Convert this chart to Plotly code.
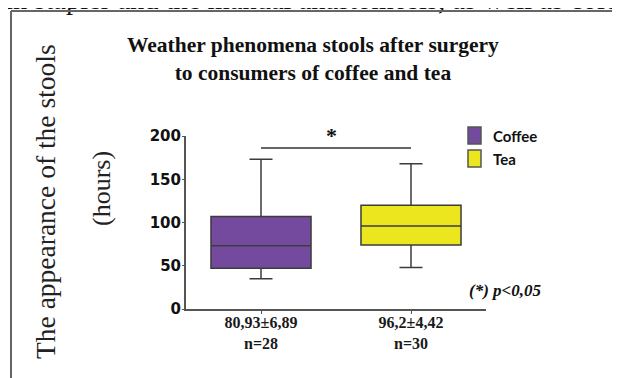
import plotly.graph_objects as go

W, H = 620, 378
OFF = 8  # the page body margin shifts the figure by this many pixels

# ---- data ----
groups = ["Coffee", "Tea"]
x_pos = [1, 2]
q1 = [47, 74]
median = [73, 96]
q3 = [107, 120]
lower = [35, 48]
upper = [173, 168]
means = ["80,93", "96,2"]
sems = ["6,89", "4,42"]
ns = [28, 30]
fills = ["#744a9e", "#ece61e"]
y_ticks = [0, 50, 100, 150, 200]
y_max = 200
bracket_value = 186
star_value = 201
page_text = "in stapler and the manual anastomosis, as well as colo"

def px_x(p):
    return (p - OFF) / W

def px_y(p):
    return 1 - (p - OFF) / H

y_dom = [px_y(309), px_y(136)]

fig = go.Figure()
for i, g in enumerate(groups):
    fig.add_trace(go.Box(
        x=[x_pos[i]], q1=[q1[i]], median=[median[i]], q3=[q3[i]],
        lowerfence=[lower[i]], upperfence=[upper[i]],
        name=g, width=0.667, whiskerwidth=0.23,
        fillcolor=fills[i], line=dict(color="#3c3c3c", width=1.5),
        showlegend=False, boxpoints=False,
    ))

# clipped line of page text above the frame (on a hidden full-page axis pair)
fig.add_trace(go.Scatter(
    x=[5], y=[1.5], mode="text", text=[page_text], textposition="middle right",
    textfont=dict(family="Liberation Serif", size=28.5, color="#111"),
    xaxis="x2", yaxis="y2", showlegend=False, hoverinfo="skip", cliponaxis=True,
))

ticktext = [f"{m}±{s}<br>n={n}" for m, s, n in zip(means, sems, ns)]

fig.update_layout(
    width=W, height=H,
    margin=dict(l=0, r=0, t=0, b=0, autoexpand=False),
    paper_bgcolor="white", plot_bgcolor="rgba(0,0,0,0)",
    boxmode="overlay",
    xaxis=dict(
        domain=[px_x(186), px_x(486)], range=[0.5, 2.5],
        tickvals=x_pos, ticktext=ticktext,
        showline=True, linecolor="#555", linewidth=2,
        ticks="outside", ticklen=3, tickcolor="#555",
        showgrid=False, zeroline=False, automargin=False,
        tickfont=dict(family="Liberation Serif", size=16, color="#1a1a1a", weight="bold"),
        ticklabelstandoff=-5,
    ),
    yaxis=dict(
        domain=y_dom, range=[0, y_max],
        tickvals=y_ticks,
        showline=True, linecolor="#555", linewidth=2,
        ticks="outside", ticklen=2, tickcolor="#555",
        showgrid=False, zeroline=False, automargin=False,
        tickfont=dict(family="DejaVu Sans", size=15, color="#111", weight="bold"),
        ticklabelstandoff=-2,
    ),
    xaxis2=dict(domain=[0, 1], range=[OFF, W + OFF], visible=False, anchor="y2", fixedrange=True),
    yaxis2=dict(domain=[0, 1], range=[H + OFF, OFF], visible=False, anchor="x2", fixedrange=True),
)

# significance bracket and star
fig.add_shape(type="line", xref="x", yref="y", x0=x_pos[0], x1=x_pos[1],
              y0=bracket_value, y1=bracket_value, line=dict(color="#333", width=1.5))
star_paper_y = y_dom[0] + (y_dom[1] - y_dom[0]) * star_value / y_max
fig.add_annotation(xref="x", yref="paper", x=sum(x_pos) / 2 - 0.03, y=star_paper_y, text="<b>*</b>",
                   showarrow=False, font=dict(family="Liberation Serif", size=22, color="#111"))

# frame of the scanned page
fig.add_shape(type="line", xref="paper", yref="paper", x0=px_x(11), x1=1,
              y0=px_y(11), y1=px_y(11), line=dict(color="#666", width=2))
fig.add_shape(type="line", xref="paper", yref="paper", x0=px_x(11), x1=px_x(11),
              y0=px_y(11), y1=0, line=dict(color="#666", width=2))

# title
fig.add_annotation(xref="paper", yref="paper", x=px_x(313), y=px_y(58.5), xanchor="center", yanchor="middle",
                   text="<b>Weather phenomena stools after surgery<br>to consumers of coffee and tea</b>",
                   showarrow=False, font=dict(family="Liberation Serif", size=21.5, color="#111"))

# y-axis title (two lines placed separately)
fig.add_annotation(xref="paper", yref="paper", x=px_x(45), y=px_y(202), xanchor="center", yanchor="middle",
                   text="The appearance of the stools", textangle=-90, showarrow=False,
                   font=dict(family="Liberation Serif", size=27.5, color="#222"))
fig.add_annotation(xref="paper", yref="paper", x=px_x(101), y=px_y(189), xanchor="center", yanchor="middle",
                   text="(hours)", textangle=-90, showarrow=False,
                   font=dict(family="Liberation Serif", size=26, color="#222"))

# legend
leg_tops = [127, 150]
for i, g in enumerate(groups):
    fig.add_shape(type="rect", xref="paper", yref="paper",
                  x0=px_x(468), x1=px_x(481), y0=px_y(leg_tops[i]), y1=px_y(leg_tops[i] + 17),
                  fillcolor=fills[i], line=dict(color="#555", width=1.5))
    fig.add_annotation(xref="paper", yref="paper", x=px_x(491), y=px_y(leg_tops[i] + 9),
                       xanchor="left", yanchor="middle", text=f"<b>{g}</b>", showarrow=False,
                       font=dict(family="Lato", size=15, color="#111"))

# p-value note
fig.add_annotation(xref="paper", yref="paper", x=px_x(467), y=px_y(290), xanchor="left", yanchor="middle",
                   text="<b><i>(*) p&lt;0,05</i></b>", showarrow=False,
                   font=dict(family="Liberation Serif", size=17, color="#111"))

fig.write_html("out.html")
